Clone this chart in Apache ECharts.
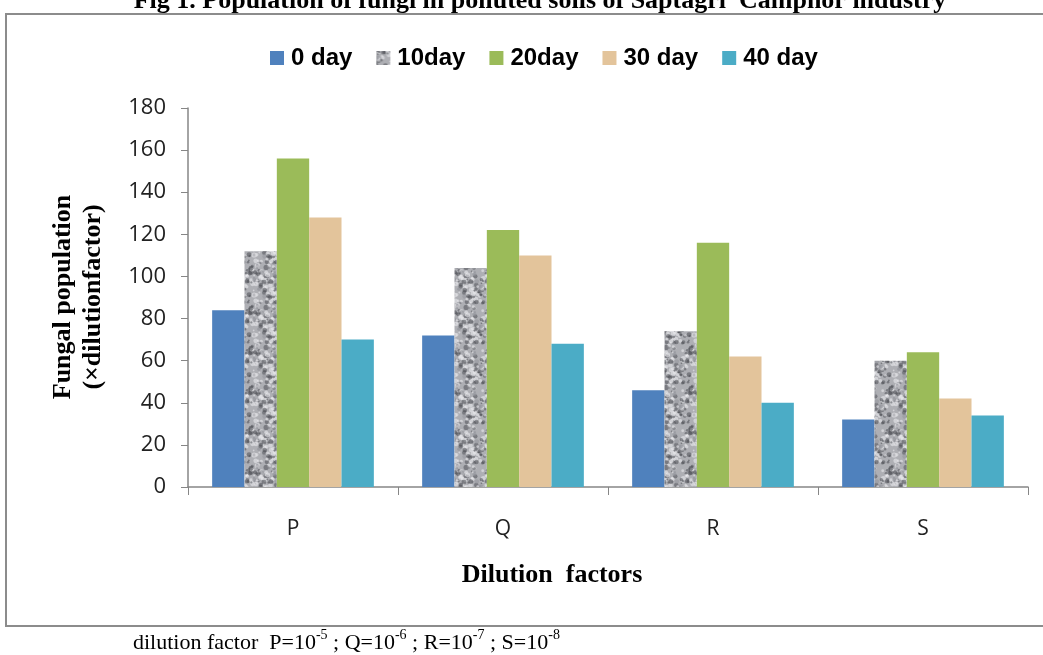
<!DOCTYPE html>
<html><head><meta charset="utf-8">
<script src="https://cdn.jsdelivr.net/npm/echarts@6/dist/echarts.min.js"></script>
<style>html,body{margin:0;padding:0;background:#fff}#c{width:1043px;height:655px}</style>
</head><body><div id="c"></div>
<script>
const categories = ['P', 'Q', 'R', 'S'];
const seriesNames = ['0 day', '10day', '20day', '30 day', '40 day'];
const day0 = [84, 72, 46, 32];
const day10 = [112, 104, 74, 60];
const day20 = [156, 122, 116, 64];
const day30 = [128, 110, 62, 42];
const day40 = [70, 68, 40, 34];
const yTicks = [0, 20, 40, 60, 80, 100, 120, 140, 160, 180];

// deterministic granite-like texture for the 10day bars
function makeTexture() {
  const N = 40;
  const c = document.createElement('canvas');
  c.width = N; c.height = N;
  const g = c.getContext('2d');
  g.fillStyle = '#aeafb4'; g.fillRect(0, 0, N, N);
  let s = 98765;
  const rnd = () => { s = (s * 1103515245 + 12345) & 0x7fffffff; return s / 0x7fffffff; };
  for (let i = 0; i < 140; i++) {
    const x = rnd() * N, y = rnd() * N, r = 0.8 + rnd() * 1.8;
    const t = rnd();
    g.fillStyle = t < 0.45 ? 'rgba(70,72,78,0.5)' : (t < 0.9 ? 'rgba(238,239,243,0.55)' : 'rgba(150,152,158,0.6)');
    for (const dx of [-N, 0, N]) for (const dy of [-N, 0, N]) {
      g.beginPath(); g.arc(x + dx, y + dy, r, 0, Math.PI * 2); g.fill();
    }
  }
  return c;
}
const tex = makeTexture();

const colors = ['#4f81bd', {image: tex, repeat: 'repeat'}, '#9bbb59', '#e3c49b', '#4bacc6'];
const datasets = [day0, day10, day20, day30, day40];

const chart = echarts.init(document.getElementById('c'));
chart.setOption({
  animation: false,
  legend: {
    top: 41, left: 265,
    itemWidth: 14, itemHeight: 14, itemGap: 24,
    icon: 'rect',
    textStyle: {fontFamily: 'Liberation Sans', fontWeight: 'bold', fontSize: 24, color: '#000', padding: [0, 0, 0, 2]},
    data: seriesNames
  },
  grid: {left: 188, right: 15, top: 108, bottom: 168},
  xAxis: {
    type: 'category', data: categories,
    axisLine: {lineStyle: {color: '#868686', width: 1.5}},
    axisTick: {show: true, length: 8, lineStyle: {color: '#868686'}},
    axisLabel: {fontFamily: 'Open Sans', fontSize: 21, color: '#222', margin: 32}
  },
  yAxis: {
    type: 'value', min: 0, max: 180, interval: 20,
    axisLine: {show: true, lineStyle: {color: '#868686', width: 1.5}},
    axisTick: {show: true, length: 7, lineStyle: {color: '#868686'}},
    splitLine: {show: false},
    axisLabel: {fontFamily: 'Open Sans', fontSize: 22, color: '#222', margin: 22,
      formatter: v => yTicks.includes(v) ? String(v) : ''}
  },
  series: datasets.map((d, i) => ({
    name: seriesNames[i], type: 'bar', data: d,
    barGap: '0%', barCategoryGap: '23%',
    itemStyle: {color: colors[i]}
  })),
  graphic: [
    {type: 'rect', shape: {x: 6, y: 14, width: 1045, height: 612}, style: {fill: 'none', stroke: '#8c8c8c', lineWidth: 2}, z: 0, silent: true},
    {type: 'text', x: 540, y: 1, style: {text: 'Fig 1. Population of fungi in polluted soils of Saptagri  Camphor industry', fontFamily: 'Liberation Serif', fontWeight: 'bold', fontSize: 26, fill: '#000', align: 'center', verticalAlign: 'middle'}},
    {type: 'text', x: 78, y: 297, rotation: Math.PI / 2, style: {text: 'Fungal population\n(×dilutionfactor)', fontFamily: 'Liberation Serif', fontWeight: 'bold', fontSize: 26, lineHeight: 30, fill: '#000', align: 'center', verticalAlign: 'middle'}},
    {type: 'text', x: 552, y: 575, style: {text: 'Dilution  factors', fontFamily: 'Liberation Serif', fontWeight: 'bold', fontSize: 26, fill: '#000', align: 'center', verticalAlign: 'middle'}},
    {type: 'text', x: 133, y: 641, style: {
      text: '{a|dilution factor  P=10}{s|-5}{a| ; Q=10}{s|-6}{a| ; R=10}{s|-7}{a| ; S=10}{s|-8}',
      verticalAlign: 'middle', align: 'left',
      rich: {
        a: {fontFamily: 'Liberation Serif', fontSize: 22, color: '#000', lineHeight: 26, verticalAlign: 'bottom'},
        s: {fontFamily: 'Liberation Serif', fontSize: 14, color: '#000', lineHeight: 26, verticalAlign: 'top'}
      }
    }}
  ]
});
</script></body></html>
